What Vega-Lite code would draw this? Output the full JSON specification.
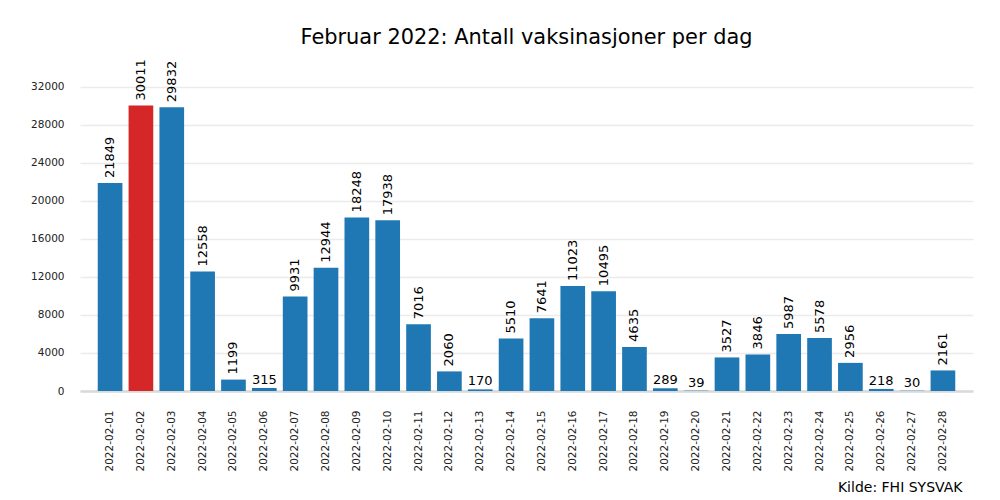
{
  "$schema": "https://vega.github.io/schema/vega-lite/v6.json",
  "autosize": {"type": "none"},
  "padding": {"left": 80, "top": 58, "right": 27, "bottom": 109},
  "width": 893,
  "height": 333,
  "background": "white",
  "config": {
    "font": "DejaVu Sans",
    "view": {"stroke": null}
  },
  "title": {
    "text": "Februar 2022: Antall vaksinasjoner per dag",
    "font": "DejaVu Sans",
    "fontSize": 20.9,
    "fontWeight": "normal",
    "color": "#000000",
    "anchor": "middle",
    "offset": 10
  },
  "data": {
    "values": [
      {"dato": "2022-02-01", "antall": 21849},
      {"dato": "2022-02-02", "antall": 30011},
      {"dato": "2022-02-03", "antall": 29832},
      {"dato": "2022-02-04", "antall": 12558},
      {"dato": "2022-02-05", "antall": 1199},
      {"dato": "2022-02-06", "antall": 315},
      {"dato": "2022-02-07", "antall": 9931},
      {"dato": "2022-02-08", "antall": 12944},
      {"dato": "2022-02-09", "antall": 18248},
      {"dato": "2022-02-10", "antall": 17938},
      {"dato": "2022-02-11", "antall": 7016},
      {"dato": "2022-02-12", "antall": 2060},
      {"dato": "2022-02-13", "antall": 170},
      {"dato": "2022-02-14", "antall": 5510},
      {"dato": "2022-02-15", "antall": 7641},
      {"dato": "2022-02-16", "antall": 11023},
      {"dato": "2022-02-17", "antall": 10495},
      {"dato": "2022-02-18", "antall": 4635},
      {"dato": "2022-02-19", "antall": 289},
      {"dato": "2022-02-20", "antall": 39},
      {"dato": "2022-02-21", "antall": 3527},
      {"dato": "2022-02-22", "antall": 3846},
      {"dato": "2022-02-23", "antall": 5987},
      {"dato": "2022-02-24", "antall": 5578},
      {"dato": "2022-02-25", "antall": 2956},
      {"dato": "2022-02-26", "antall": 218},
      {"dato": "2022-02-27", "antall": 30},
      {"dato": "2022-02-28", "antall": 2161}
    ]
  },
  "transform": [
    {"joinaggregate": [{"op": "max", "field": "antall", "as": "maks"}]}
  ],
  "encoding": {
    "x": {
      "field": "dato",
      "type": "nominal",
      "sort": null,
      "scale": {"paddingInner": 0.2, "paddingOuter": 0.575},
      "axis": {
        "title": "Kilde: FHI SYSVAK",
        "titleFont": "DejaVu Sans",
        "titleFontSize": 14,
        "titleFontWeight": "normal",
        "titleColor": "#000000",
        "titleAnchor": "end",
        "titleAlign": "right",
        "titleBaseline": "alphabetic",
        "titleX": 882,
        "titleY": 100,
        "labelAngle": -90,
        "labelFontSize": 10.5,
        "labelColor": "#222222",
        "labelPadding": 19,
        "ticks": false,
        "domain": true,
        "domainColor": "#d9d9d9",
        "domainWidth": 2.5,
        "grid": false
      }
    },
    "y": {
      "field": "antall",
      "type": "quantitative",
      "scale": {"domain": [0, 35000], "nice": false},
      "axis": {
        "title": null,
        "values": [0, 4000, 8000, 12000, 16000, 20000, 24000, 28000, 32000],
        "format": "d",
        "labelFontSize": 10.5,
        "labelColor": "#222222",
        "labelPadding": 16,
        "ticks": false,
        "domain": false,
        "grid": true,
        "gridColor": "#ebebeb",
        "gridWidth": 1.6
      }
    }
  },
  "layer": [
    {
      "mark": {"type": "bar"},
      "encoding": {
        "color": {
          "condition": {"test": "datum.antall == datum.maks", "value": "#d62728"},
          "value": "#1f77b4"
        }
      }
    },
    {
      "transform": [{"filter": "datum.antall >= 1000"}],
      "mark": {"type": "text", "angle": 270, "align": "left", "baseline": "middle", "dx": 5, "fontSize": 13, "color": "#000000"},
      "encoding": {"text": {"field": "antall", "type": "quantitative", "format": "d"}}
    },
    {
      "transform": [{"filter": "datum.antall < 1000"}],
      "mark": {"type": "text", "align": "center", "baseline": "alphabetic", "dy": -4, "fontSize": 13, "color": "#000000"},
      "encoding": {"text": {"field": "antall", "type": "quantitative", "format": "d"}}
    }
  ]
}
